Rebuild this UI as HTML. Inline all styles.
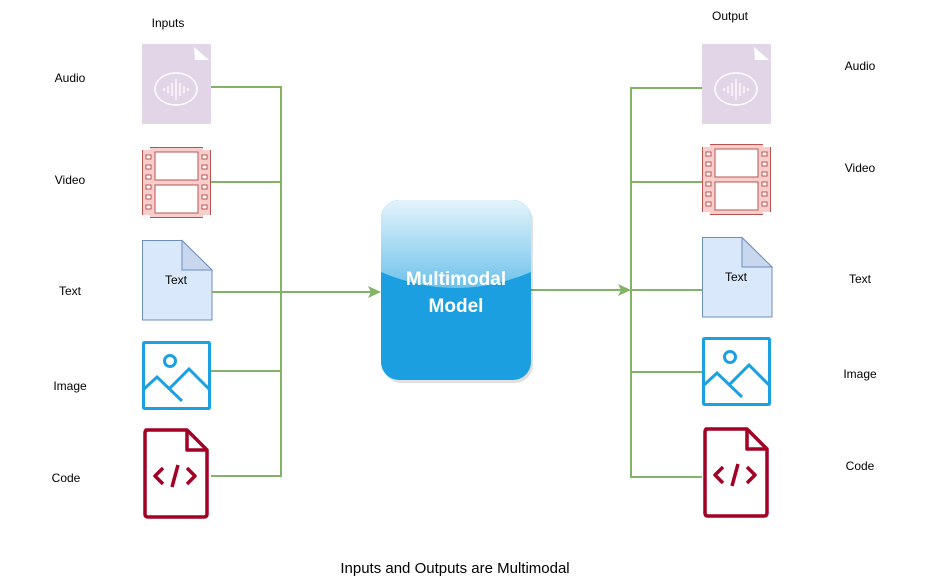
<!DOCTYPE html>
<html><head><meta charset="utf-8"><style>
html,body{margin:0;padding:0;background:#fff;}
svg{display:block;font-family:"Comic Sans MS","Liberation Sans",sans-serif;}
</style></head><body>
<svg width="926" height="581" viewBox="0 0 926 581" xmlns="http://www.w3.org/2000/svg">
<defs>
<linearGradient id="g" gradientUnits="userSpaceOnUse" x1="0" y1="200" x2="0" y2="290">
<stop offset="0" stop-color="#e4f4fc"/><stop offset="1" stop-color="#6cc1ea"/>
</linearGradient>
<clipPath id="bc"><rect x="381" y="200" width="150" height="180" rx="18"/></clipPath>
<g id="audio">
<rect x="0" y="0" width="69" height="80" fill="#e1d5e7"/>
<path d="M52,3 L67,16 H53 Z" fill="#fff"/>
<ellipse cx="34" cy="45" rx="21" ry="16" fill="none" stroke="#fff" stroke-width="1.5"/>
<g stroke="#fff" stroke-width="1.3"><line x1="22" y1="44" x2="22" y2="47"/><line x1="26" y1="42" x2="26" y2="49"/><line x1="30" y1="39" x2="30" y2="52"/><line x1="34" y1="35" x2="34" y2="56"/><line x1="38" y1="39" x2="38" y2="52"/><line x1="42" y1="42" x2="42" y2="49"/><line x1="46" y1="44" x2="46" y2="47"/></g>
</g>
<g id="video">
<rect x="0.5" y="0.5" width="68" height="70" fill="#f8cecc" stroke="#b85450"/>
<rect x="13" y="5" width="43" height="28" fill="#fff" stroke="#b85450"/>
<rect x="13" y="38" width="43" height="28" fill="#fff" stroke="#b85450"/>
<g fill="#fff" stroke="#b85450">
<rect x="4" y="8" width="5" height="4"/><rect x="4" y="18" width="5" height="4"/><rect x="4" y="28" width="5" height="4"/><rect x="4" y="38" width="5" height="4"/><rect x="4" y="48" width="5" height="4"/><rect x="4" y="58" width="5" height="4"/>
<rect x="60" y="8" width="5" height="4"/><rect x="60" y="18" width="5" height="4"/><rect x="60" y="28" width="5" height="4"/><rect x="60" y="38" width="5" height="4"/><rect x="60" y="48" width="5" height="4"/><rect x="60" y="58" width="5" height="4"/>
</g>
<rect x="0" y="0" width="8" height="3" fill="#fff"/><rect x="61" y="0" width="8" height="3" fill="#fff"/>
<rect x="0" y="68" width="8" height="3" fill="#fff"/><rect x="61" y="68" width="8" height="3" fill="#fff"/>
</g>
<g id="text">
<path d="M0.5,0.5 H40 L70,30 V80 H0.5 Z" fill="#dae8fc" stroke="#6c8ebf"/>
<path d="M40,0.5 V30 H70 Z" fill="#c9d7ee" stroke="#6c8ebf"/>
<text x="34" y="44" font-size="12" text-anchor="middle" fill="#000">Text</text>
</g>
<g id="image" fill="none" stroke="#1ba1e2" stroke-width="3">
<rect x="1.5" y="1.5" width="66" height="66" rx="1"/>
<circle cx="28" cy="20" r="5.5"/>
<polyline points="2,48 15,36 40,60"/>
<polyline points="27,48 47,28 67,48"/>
</g>
<g id="code" fill="none" stroke="#a20025" stroke-width="3.5" stroke-linejoin="round">
<path d="M4,2 H45 L65,22 V86 Q65,89 62,89 H6 Q3,89 3,86 V5 Q3,2 6,2 Z"/>
<path d="M45,2 V22 H65"/>
<polyline points="21,40 13,48 21,56"/>
<polyline points="45,40 53,48 45,56"/>
<line x1="36" y1="37" x2="30" y2="59"/>
</g>
</defs>

<g fill="#000" font-size="12">
<text x="168" y="27" text-anchor="middle">Inputs</text>
<text x="730" y="20" text-anchor="middle">Output</text>
<text x="70" y="82" text-anchor="middle">Audio</text>
<text x="70" y="184" text-anchor="middle">Video</text>
<text x="70" y="295" text-anchor="middle">Text</text>
<text x="70" y="390" text-anchor="middle">Image</text>
<text x="66" y="482" text-anchor="middle">Code</text>
<text x="860" y="70" text-anchor="middle">Audio</text>
<text x="860" y="172" text-anchor="middle">Video</text>
<text x="860" y="283" text-anchor="middle">Text</text>
<text x="860" y="378" text-anchor="middle">Image</text>
<text x="860" y="470" text-anchor="middle">Code</text>
<text x="455" y="573" text-anchor="middle" font-size="15">Inputs and Outputs are Multimodal</text>
</g>

<use href="#audio" x="142" y="44"/>
<use href="#video" x="142" y="147"/>
<use href="#text" x="142" y="240"/>
<use href="#image" x="142" y="341"/>
<use href="#code" x="142" y="428"/>

<use href="#audio" x="702" y="44"/>
<use href="#video" x="702" y="144"/>
<use href="#text" x="702" y="237"/>
<use href="#image" x="702" y="337"/>
<use href="#code" x="702" y="427"/>

<g stroke="#82b366" stroke-width="2" fill="none">
<polyline points="211,87 281,87 281,476 211,476"/>
<line x1="211" y1="182" x2="281" y2="182"/>
<line x1="211" y1="371" x2="281" y2="371"/>
<line x1="212" y1="292" x2="372" y2="292"/>
<polyline points="702,88 631,88 631,477 702,477"/>
<line x1="631" y1="182" x2="702" y2="182"/>
<line x1="631" y1="372" x2="702" y2="372"/>
<line x1="631" y1="290" x2="702" y2="290"/>
<line x1="531" y1="290" x2="622" y2="290"/>
</g>
<path d="M381,292 L368,286 L371,292 L368,298 Z" fill="#82b366"/>
<path d="M631,290 L618,284 L621,290 L618,296 Z" fill="#82b366"/>

<rect x="383" y="203" width="150" height="180" rx="18" fill="#000" opacity="0.12"/>
<g clip-path="url(#bc)">
<rect x="381" y="200" width="150" height="180" fill="#1b9fe0"/>
<path d="M381,200 H531 V272 Q456,304 381,272 Z" fill="url(#g)"/>
</g>
<text x="456" y="285" font-size="19" fill="#fff" text-anchor="middle" font-weight="bold">Multimodal</text>
<text x="456" y="312" font-size="19" fill="#fff" text-anchor="middle" font-weight="bold">Model</text>
</svg>
</body></html>
